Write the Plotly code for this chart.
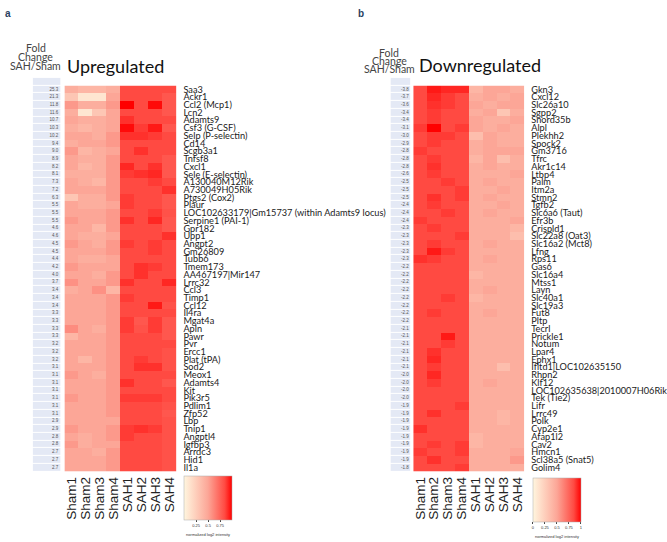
import plotly.graph_objects as go

W, H = 667, 542

samples = ["Sham1", "Sham2", "Sham3", "Sham4", "SAH1", "SAH2", "SAH3", "SAH4"]

up_genes = ["Saa3", "Ackr1", "Ccl2 (Mcp1)", "Lcn2", "Adamts9", "Csf3 (G-CSF)", "Selp (P-selectin)", "Cd14",
            "Scgb3a1", "Tnfsf8", "Cxcl1", "Sele (E-selectin)", "A130040M12Rik", "A730049H05Rik", "Ptgs2 (Cox2)",
            "Plaur", "LOC102633179|Gm15737 (within Adamts9 locus)", "Serpine1 (PAI-1)", "Gpr182", "Upp1",
            "Angpt2", "Gm26809", "Tubb6", "Tmem173", "AA467197|Mir147", "Lrrc32", "Ccl3", "Timp1", "Ccl12",
            "Il4ra", "Mgat4a", "Apln", "Pawr", "Pvr", "Ercc1", "Plat (tPA)", "Sod2", "Meox1", "Adamts4", "Kit",
            "Pik3r5", "Pdlim1", "Zfp52", "Lbp", "Tnip1", "Angptl4", "Igfbp3", "Arrdc3", "Hid1", "Il1a"]
up_fc = [25.3, 21.3, 11.8, 11.6, 10.7, 10.3, 10.2, 9.4, 9.0, 8.9, 8.2, 8.1, 7.3, 7.2, 6.3, 5.5, 5.5, 5.5,
         4.6, 4.6, 4.5, 4.5, 4.4, 4.2, 4.0, 3.7, 3.4, 3.4, 3.4, 3.3, 3.3, 3.3, 3.3, 3.2, 3.2, 3.2, 3.1, 3.1,
         3.1, 3.1, 3.1, 3.1, 3.1, 2.9, 2.9, 2.8, 2.8, 2.7, 2.7, 2.7]
up_values = [
    [0.45, 0.40, 0.40, 0.45, 0.85, 0.85, 0.85, 0.85],
    [0.30, 0.10, 0.10, 0.50, 0.85, 0.85, 0.85, 0.80],
    [0.55, 0.45, 0.45, 0.55, 1.00, 0.85, 0.98, 0.80],
    [0.45, 0.10, 0.30, 0.50, 0.85, 0.85, 0.85, 0.80],
    [0.50, 0.45, 0.45, 0.50, 0.90, 0.85, 0.85, 0.85],
    [0.45, 0.40, 0.45, 0.50, 0.98, 0.88, 0.95, 0.80],
    [0.50, 0.50, 0.45, 0.55, 0.90, 0.90, 0.88, 0.85],
    [0.45, 0.50, 0.50, 0.55, 0.85, 0.85, 0.85, 0.85],
    [0.55, 0.40, 0.45, 0.50, 0.85, 0.90, 0.85, 0.85],
    [0.50, 0.45, 0.45, 0.55, 0.85, 0.85, 0.85, 0.80],
    [0.50, 0.40, 0.45, 0.55, 0.92, 0.85, 0.90, 0.80],
    [0.45, 0.45, 0.45, 0.55, 0.88, 0.90, 0.92, 0.80],
    [0.50, 0.45, 0.40, 0.55, 0.85, 0.85, 0.88, 0.85],
    [0.50, 0.50, 0.50, 0.55, 0.85, 0.85, 0.85, 0.90],
    [0.30, 0.45, 0.45, 0.55, 0.88, 0.85, 0.85, 0.80],
    [0.50, 0.45, 0.45, 0.50, 0.88, 0.85, 0.85, 0.80],
    [0.50, 0.50, 0.50, 0.55, 0.85, 0.85, 0.88, 0.82],
    [0.55, 0.50, 0.50, 0.55, 0.90, 0.85, 0.92, 0.80],
    [0.50, 0.50, 0.40, 0.55, 0.85, 0.85, 0.85, 0.80],
    [0.50, 0.45, 0.45, 0.50, 0.85, 0.85, 0.85, 0.90],
    [0.55, 0.50, 0.45, 0.55, 0.88, 0.85, 0.88, 0.85],
    [0.50, 0.50, 0.50, 0.55, 0.85, 0.85, 0.88, 0.85],
    [0.50, 0.45, 0.45, 0.50, 0.85, 0.85, 0.85, 0.85],
    [0.55, 0.50, 0.50, 0.50, 0.85, 0.90, 0.88, 0.85],
    [0.50, 0.50, 0.45, 0.55, 0.85, 0.90, 0.85, 0.85],
    [0.58, 0.50, 0.50, 0.55, 0.90, 0.85, 0.85, 0.92],
    [0.45, 0.50, 0.58, 0.40, 0.85, 0.85, 0.85, 0.85],
    [0.50, 0.50, 0.50, 0.55, 0.88, 0.85, 0.85, 0.85],
    [0.50, 0.50, 0.50, 0.55, 0.85, 0.85, 0.95, 0.82],
    [0.50, 0.50, 0.50, 0.55, 0.85, 0.85, 0.85, 0.85],
    [0.50, 0.50, 0.50, 0.55, 0.88, 0.80, 0.88, 0.80],
    [0.60, 0.50, 0.45, 0.55, 0.88, 0.82, 0.88, 0.80],
    [0.40, 0.50, 0.50, 0.55, 0.85, 0.85, 0.85, 0.80],
    [0.50, 0.50, 0.50, 0.55, 0.85, 0.85, 0.85, 0.85],
    [0.50, 0.50, 0.50, 0.55, 0.85, 0.85, 0.85, 0.82],
    [0.50, 0.40, 0.50, 0.55, 0.85, 0.88, 0.85, 0.82],
    [0.50, 0.50, 0.50, 0.55, 0.85, 0.90, 0.90, 0.82],
    [0.55, 0.50, 0.45, 0.55, 0.85, 0.85, 0.85, 0.85],
    [0.50, 0.50, 0.50, 0.55, 0.90, 0.85, 0.85, 0.80],
    [0.50, 0.50, 0.50, 0.55, 0.85, 0.85, 0.85, 0.85],
    [0.55, 0.50, 0.50, 0.55, 0.88, 0.88, 0.88, 0.85],
    [0.50, 0.50, 0.50, 0.55, 0.85, 0.85, 0.85, 0.82],
    [0.50, 0.50, 0.50, 0.55, 0.85, 0.85, 0.85, 0.80],
    [0.50, 0.50, 0.50, 0.50, 0.85, 0.85, 0.85, 0.82],
    [0.55, 0.50, 0.50, 0.55, 0.88, 0.90, 0.88, 0.82],
    [0.50, 0.45, 0.50, 0.55, 0.88, 0.85, 0.85, 0.82],
    [0.55, 0.45, 0.50, 0.50, 0.85, 0.85, 0.85, 0.82],
    [0.50, 0.50, 0.45, 0.55, 0.85, 0.85, 0.85, 0.82],
    [0.50, 0.50, 0.50, 0.55, 0.85, 0.85, 0.85, 0.82],
    [0.50, 0.50, 0.50, 0.55, 0.85, 0.85, 0.85, 0.82],
]

down_genes = ["Gkn3", "Cxcl12", "Slc26a10", "Sgpp2", "Snord35b", "Alpl", "Plekhh2", "Spock2", "Gm3716", "Tfrc",
              "Akr1c14", "Ltbp4", "Palm", "Itm2a", "Stmn2", "Tgfb2", "Slc6a6 (Taut)", "Efr3b", "Crispld1",
              "Slc22a8 (Oat3)", "Slc16a2 (Mct8)", "Lfng", "Rps11", "Gas6", "Slc16a4", "Mtss1", "Layn", "Slc40a1",
              "Slc19a3", "Fut8", "Pltp", "Tecrl", "Prickle1", "Notum", "Lpar4", "Ephx1", "Ifltd1|LOC102635150",
              "Rhpn2", "Klf12", "LOC102635638|2010007H06Rik", "Tek (Tie2)", "Lifr", "Lrrc49", "Polk", "Cyp2e1",
              "Afap1l2", "Cav2", "Hmcn1", "Scl38a5 (Snat5)", "Golim4"]
down_fc = [-3.8, -3.7, -3.6, -3.4, -3.4, -3.1, -3.0, -2.9, -2.8, -2.8, -2.8, -2.6, -2.5, -2.5, -2.5, -2.4,
           -2.4, -2.4, -2.3, -2.3, -2.3, -2.3, -2.3, -2.2, -2.2, -2.2, -2.2, -2.2, -2.2, -2.2, -2.2, -2.1,
           -2.1, -2.1, -2.1, -2.1, -2.1, -2.0, -2.0, -2.0, -2.0, -1.9, -1.9, -1.9, -1.9, -1.9, -1.9, -1.9,
           -1.9, -1.8]
down_values = [
    [0.85, 0.95, 0.92, 0.92, 0.40, 0.50, 0.50, 0.45],
    [0.85, 0.92, 0.88, 0.85, 0.45, 0.50, 0.45, 0.50],
    [0.85, 0.90, 0.88, 0.85, 0.50, 0.45, 0.50, 0.50],
    [0.85, 0.88, 0.85, 0.85, 0.45, 0.50, 0.30, 0.45],
    [0.85, 0.88, 0.85, 0.85, 0.50, 0.45, 0.45, 0.50],
    [0.88, 1.00, 0.85, 0.88, 0.50, 0.45, 0.50, 0.45],
    [0.85, 0.88, 0.88, 0.85, 0.35, 0.50, 0.45, 0.45],
    [0.85, 0.88, 0.85, 0.85, 0.45, 0.50, 0.45, 0.45],
    [0.88, 0.85, 0.85, 0.85, 0.45, 0.50, 0.50, 0.50],
    [0.85, 0.88, 0.85, 0.85, 0.40, 0.50, 0.35, 0.45],
    [0.85, 0.90, 0.85, 0.85, 0.45, 0.50, 0.45, 0.45],
    [0.85, 0.88, 0.85, 0.85, 0.45, 0.45, 0.45, 0.50],
    [0.85, 0.85, 0.88, 0.85, 0.45, 0.50, 0.45, 0.45],
    [0.85, 0.85, 0.85, 0.88, 0.45, 0.45, 0.50, 0.45],
    [0.85, 0.90, 0.85, 0.88, 0.45, 0.50, 0.45, 0.45],
    [0.85, 0.88, 0.85, 0.85, 0.45, 0.45, 0.50, 0.45],
    [0.85, 0.85, 0.88, 0.85, 0.45, 0.50, 0.45, 0.45],
    [0.88, 0.85, 0.85, 0.85, 0.45, 0.45, 0.45, 0.50],
    [0.85, 0.88, 0.85, 0.85, 0.45, 0.45, 0.45, 0.40],
    [0.85, 0.85, 0.85, 0.88, 0.45, 0.45, 0.45, 0.35],
    [0.85, 0.88, 0.85, 0.85, 0.45, 0.50, 0.45, 0.45],
    [0.85, 0.95, 0.88, 0.85, 0.45, 0.45, 0.45, 0.45],
    [0.90, 0.88, 0.85, 0.85, 0.45, 0.50, 0.45, 0.45],
    [0.85, 0.85, 0.85, 0.85, 0.45, 0.45, 0.45, 0.45],
    [0.85, 0.85, 0.85, 0.85, 0.40, 0.45, 0.45, 0.45],
    [0.85, 0.85, 0.85, 0.85, 0.45, 0.45, 0.45, 0.45],
    [0.85, 0.85, 0.85, 0.85, 0.45, 0.50, 0.45, 0.45],
    [0.85, 0.85, 0.88, 0.85, 0.40, 0.45, 0.45, 0.45],
    [0.85, 0.85, 0.85, 0.85, 0.45, 0.45, 0.45, 0.45],
    [0.85, 0.88, 0.85, 0.85, 0.45, 0.50, 0.45, 0.45],
    [0.85, 0.85, 0.85, 0.85, 0.45, 0.45, 0.45, 0.45],
    [0.85, 0.85, 0.85, 0.85, 0.45, 0.45, 0.45, 0.45],
    [0.85, 0.85, 0.95, 0.85, 0.45, 0.45, 0.45, 0.45],
    [0.85, 0.85, 0.88, 0.85, 0.45, 0.45, 0.45, 0.45],
    [0.85, 0.90, 0.85, 0.85, 0.45, 0.45, 0.45, 0.45],
    [0.85, 0.92, 0.85, 0.85, 0.45, 0.45, 0.45, 0.45],
    [0.85, 0.88, 0.85, 0.85, 0.45, 0.45, 0.35, 0.45],
    [0.85, 0.92, 0.85, 0.85, 0.45, 0.45, 0.45, 0.45],
    [0.85, 0.88, 0.85, 0.85, 0.45, 0.50, 0.45, 0.45],
    [0.85, 0.85, 0.85, 0.85, 0.45, 0.45, 0.45, 0.45],
    [0.85, 0.85, 0.85, 0.85, 0.45, 0.45, 0.45, 0.45],
    [0.85, 0.85, 0.85, 0.88, 0.45, 0.45, 0.45, 0.45],
    [0.85, 0.90, 0.85, 0.85, 0.45, 0.45, 0.40, 0.45],
    [0.85, 0.85, 0.85, 0.85, 0.45, 0.45, 0.40, 0.45],
    [0.90, 0.85, 0.85, 0.85, 0.45, 0.45, 0.45, 0.45],
    [0.85, 0.85, 0.85, 0.85, 0.40, 0.45, 0.45, 0.45],
    [0.85, 0.88, 0.85, 0.88, 0.40, 0.45, 0.45, 0.45],
    [0.88, 0.85, 0.85, 0.88, 0.45, 0.45, 0.45, 0.50],
    [0.85, 0.90, 0.85, 0.85, 0.45, 0.45, 0.45, 0.55],
    [0.85, 0.85, 0.85, 0.88, 0.45, 0.45, 0.45, 0.45],
]

colorscale = [[0.0, "#fff6df"], [0.5, "#fca697"], [0.85, "#ff4a42"], [1.0, "#ff0000"]]
fc_color = "#e4e9f5"
label_font = "Lato, Liberation Sans"
col_font = "Liberation Sans Narrow, Arial Narrow, Liberation Sans, Arial"


def fx(px):
    return px / W


def fy(py):
    return 1 - py / H


fig = go.Figure()

panels = [
    dict(genes=up_genes, fc=up_fc, vals=up_values, fcx=(32, 60), hx=(64, 177), n=("x", "y", "x2", "y2"),
         cbx=209, cby=477, cbticks=[0.25, 0.5, 0.75]),
    dict(genes=down_genes, fc=down_fc, vals=down_values, fcx=(393, 413), hx=(416, 528), n=("x3", "y3", "x4", "y4"),
         cbx=561, cby=479, cbticks=[0.0, 0.25, 0.5, 0.75, 1.0]),
]

top_row, bottom = 84, 472
layout_axes = {}
for p in panels:
    nrow = len(p["genes"])
    xa, ya, xb, yb = p["n"]
    # fold-change column (with empty header cell)
    fig.add_trace(go.Heatmap(z=[[1]] * (nrow + 1), x=[0], y=list(range(nrow + 1)),
                             colorscale=[[0, fc_color], [1, fc_color]], showscale=False, ygap=1,
                             hoverinfo="skip", xaxis=xa, yaxis=ya))
    fig.add_trace(go.Scatter(x=[0.42] * nrow, y=list(range(1, nrow + 1)),
                             text=[f"{v:.1f}" for v in p["fc"]], mode="text", textposition="middle left",
                             textfont=dict(size=4.5, color="#555555", family="Liberation Sans"),
                             hoverinfo="skip", showlegend=False, xaxis=xa, yaxis=ya))
    # expression heatmap
    fig.add_trace(go.Heatmap(z=p["vals"], x=samples, y=list(range(nrow)), zmin=0, zmax=1,
                             colorscale=colorscale, xaxis=xb, yaxis=yb,
                             colorbar=dict(orientation="h", x=fx(p["cbx"]), xanchor="center",
                                           y=fy(p["cby"]), yanchor="top", len=48, lenmode="pixels",
                                           thickness=44, thicknessmode="pixels", outlinewidth=0.5,
                                           outlinecolor="#aaaaaa", tickvals=p["cbticks"], ticks="outside",
                                           ticklen=2, tickfont=dict(size=4, color="#333333"),
                                           title=dict(text="normalized log2 intensity", side="bottom",
                                                      font=dict(size=4, color="#333333")),
                                           xpad=0, ypad=0)))
    row_h = (bottom - top_row) / nrow
    layout_axes[xa.replace("x", "xaxis")] = dict(domain=[fx(p["fcx"][0]), fx(p["fcx"][1])], range=[-0.5, 0.5],
                                                  visible=False, anchor=ya, fixedrange=True)
    layout_axes[ya.replace("y", "yaxis")] = dict(domain=[fy(bottom), fy(top_row - row_h)],
                                                  range=[nrow + 0.5, -0.5], visible=False, anchor=xa)
    layout_axes[xb.replace("x", "xaxis")] = dict(domain=[fx(p["hx"][0]), fx(p["hx"][1])], anchor=yb,
                                                  tickangle=-90, ticks="", showgrid=False, showline=False,
                                                  zeroline=False, tickmode="array", tickvals=samples,
                                                  ticktext=samples, ticklabelstandoff=2,
                                                  tickfont=dict(family=col_font, size=13.5, color="#222222"))
    layout_axes[yb.replace("y", "yaxis")] = dict(domain=[fy(bottom), fy(top_row)], anchor=xb, side="right",
                                                  range=[nrow - 0.5, -0.5], tickmode="array",
                                                  tickvals=list(range(nrow)), ticktext=p["genes"], ticks="",
                                                  showgrid=False, zeroline=False, showline=False,
                                                  ticklabelstandoff=6,
                                                  tickfont=dict(family=label_font, size=9.2, color="#1a1a1a"))

annotations = [
    dict(text="<b>a</b>", x=fx(2), y=fy(12), xanchor="left", yanchor="middle", font=dict(size=10)),
    dict(text="<b>b</b>", x=fx(358), y=fy(12), xanchor="left", yanchor="middle", font=dict(size=10)),
    dict(text="Upregulated", x=fx(65), y=fy(64), xanchor="left", yanchor="middle",
         font=dict(family=label_font, size=18, color="#111111")),
    dict(text="Downregulated", x=fx(420), y=fy(63), xanchor="left", yanchor="middle",
         font=dict(family=label_font, size=18, color="#111111")),
]
for cx, ys in [(35, (46, 55, 64)), (392, (51, 59, 67))]:
    for txt, yy in zip(["Fold", "Change", "SAH/Sham"], ys):
        annotations.append(dict(text=txt, x=fx(cx), y=fy(yy), xanchor="center", yanchor="middle",
                                font=dict(family=label_font, size=10.5, color="#444444")))
for a in annotations:
    a.update(xref="paper", yref="paper", showarrow=False)

fig.update_layout(width=W, height=H, margin=dict(l=0, r=0, t=0, b=0), paper_bgcolor="white",
                  plot_bgcolor="white", showlegend=False, annotations=annotations,
                  font=dict(family="Liberation Sans"), **layout_axes)

fig.write_html("out.html", config={"displayModeBar": False},
               post_script="document.body.style.margin='0px';")
